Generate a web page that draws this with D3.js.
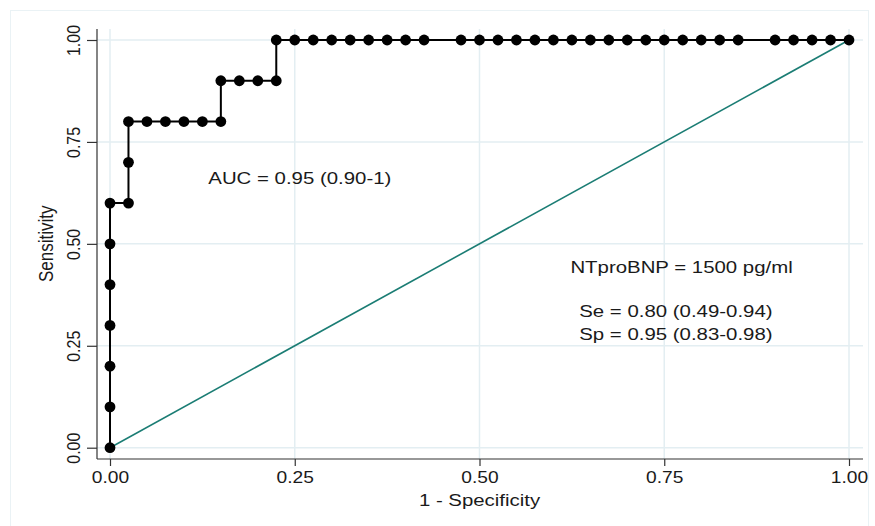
<!DOCTYPE html>
<html>
<head>
<meta charset="utf-8">
<script src="https://cdn.jsdelivr.net/npm/d3@7"></script>
<style>
  body { margin: 0; background: #fff; }
  text { font-family: "Liberation Sans", Arial, sans-serif; fill: #1a1a1a; }
</style>
</head>
<body>
<div class="visHolder"></div>
<script>
const width = 875;
const height = 526;

// ROC points: 1 - specificity, sensitivity (in plotting order)
const fpr  = [0, 0, 0, 0, 0, 0, 0,
              0.025, 0.025, 0.025,
              0.05, 0.075, 0.1, 0.125, 0.15,
              0.15, 0.175, 0.2, 0.225,
              0.225, 0.25, 0.275, 0.3, 0.325, 0.35, 0.375, 0.4, 0.425,
              0.475, 0.5, 0.525, 0.55, 0.575, 0.6, 0.625, 0.65, 0.675, 0.7, 0.725, 0.75, 0.775, 0.8, 0.825, 0.85,
              0.9, 0.925, 0.95, 0.975, 1];
const sens = [0, 0.1, 0.2, 0.3, 0.4, 0.5, 0.6,
              0.6, 0.7, 0.8,
              0.8, 0.8, 0.8, 0.8, 0.8,
              0.9, 0.9, 0.9, 0.9,
              1, 1, 1, 1, 1, 1, 1, 1, 1,
              1, 1, 1, 1, 1, 1, 1, 1, 1, 1, 1, 1, 1, 1, 1, 1,
              1, 1, 1, 1, 1];
const refLine = [[0, 0], [1, 1]];
const ticks = [0, 0.25, 0.5, 0.75, 1];

const notes = [
  { text: 'AUC = 0.95 (0.90-1)', x: 0.133, y: 0.648 },
  { text: 'NTproBNP = 1500 pg/ml', x: 0.623, y: 0.428 },
  { text: 'Se = 0.80 (0.49-0.94)', x: 0.635, y: 0.320 },
  { text: 'Sp = 0.95 (0.83-0.98)', x: 0.635, y: 0.264 }
];

// the original picture is a little wider than tall, so text is stretched sideways
const stretch = 1.2;

const svg = d3.select('.visHolder')
  .append('svg')
  .attr('width', width)
  .attr('height', height);

// outer graph region outline
svg.append('rect')
  .attr('x', 10.5).attr('y', 10.5)
  .attr('width', 858).attr('height', 530)
  .attr('fill', 'none')
  .attr('stroke', '#eaf2f5');

const plotLeft = 97, plotRight = 863, plotTop = 29, plotBottom = 459;

const xScale = d3.scaleLinear().domain([0, 1]).range([110, 849]);
const yScale = d3.scaleLinear().domain([0, 1]).range([447.7, 40]);

// grid
svg.append('g').selectAll('line.gx').data(ticks).enter()
  .append('line')
  .attr('x1', d => xScale(d)).attr('x2', d => xScale(d))
  .attr('y1', plotTop).attr('y2', plotBottom)
  .attr('stroke', '#e3eef2').attr('stroke-width', 1.5);
svg.append('g').selectAll('line.gy').data(ticks).enter()
  .append('line')
  .attr('x1', plotLeft).attr('x2', plotRight)
  .attr('y1', d => yScale(d)).attr('y2', d => yScale(d))
  .attr('stroke', '#e3eef2').attr('stroke-width', 1.5);

// axes
const xAxis = d3.axisBottom(xScale).tickValues(ticks).tickFormat(d3.format('.2f')).tickSize(7).tickPadding(6);
const yAxis = d3.axisLeft(yScale).tickValues(ticks).tickFormat(d3.format('.2f')).tickSize(10).tickPadding(6);

const gx = svg.append('g')
  .attr('id', 'x-axis')
  .attr('transform', `translate(0, ${plotBottom})`)
  .call(xAxis);
gx.select('.domain').attr('d', `M${plotLeft},0H${plotRight}`);

const gy = svg.append('g')
  .attr('id', 'y-axis')
  .attr('transform', `translate(${plotLeft}, 0)`)
  .call(yAxis);
gy.select('.domain').attr('d', `M0,${plotTop}V${plotBottom}`);

svg.selectAll('.domain, .tick line').attr('stroke', '#333').attr('stroke-width', 1.2);
svg.selectAll('.tick text').style('font-size', '16px').attr('fill', '#1a1a1a');

gx.selectAll('.tick text')
  .attr('transform', `scale(${stretch},1)`);

gy.selectAll('.tick text')
  .attr('text-anchor', 'middle')
  .attr('transform', `rotate(-90) scale(1,${stretch})`)
  .attr('x', 0).attr('dy', 0)
  .attr('y', -14.5);

// axis titles
svg.append('text')
  .attr('transform', `translate(53, ${yScale(0.5)}) rotate(-90) scale(1,${stretch})`)
  .attr('text-anchor', 'middle')
  .style('font-size', '17px')
  .text('Sensitivity');

svg.append('text')
  .attr('transform', `translate(${xScale(0.5)}, 506) scale(${stretch},1)`)
  .attr('text-anchor', 'middle')
  .style('font-size', '17px')
  .text('1 - Specificity');

// reference line
svg.append('path')
  .datum(refLine)
  .attr('d', d3.line().x(d => xScale(d[0])).y(d => yScale(d[1])))
  .attr('fill', 'none')
  .attr('stroke', '#1b7d74')
  .attr('stroke-width', 1.6);

// ROC curve
const pts = fpr.map((f, i) => [f, sens[i]]);
svg.append('path')
  .datum(pts)
  .attr('d', d3.line().x(d => xScale(d[0])).y(d => yScale(d[1])))
  .attr('fill', 'none')
  .attr('stroke', '#000')
  .attr('stroke-width', 2);

svg.append('g').selectAll('circle').data(pts).enter()
  .append('circle')
  .attr('cx', d => xScale(d[0]))
  .attr('cy', d => yScale(d[1]))
  .attr('r', 5.4)
  .attr('fill', '#000');

// annotations
svg.append('g').selectAll('text').data(notes).enter()
  .append('text')
  .attr('transform', d => `translate(${xScale(d.x)}, ${yScale(d.y)}) scale(${stretch},1)`)
  .style('font-size', '17px')
  .text(d => d.text);
</script>
</body>
</html>
